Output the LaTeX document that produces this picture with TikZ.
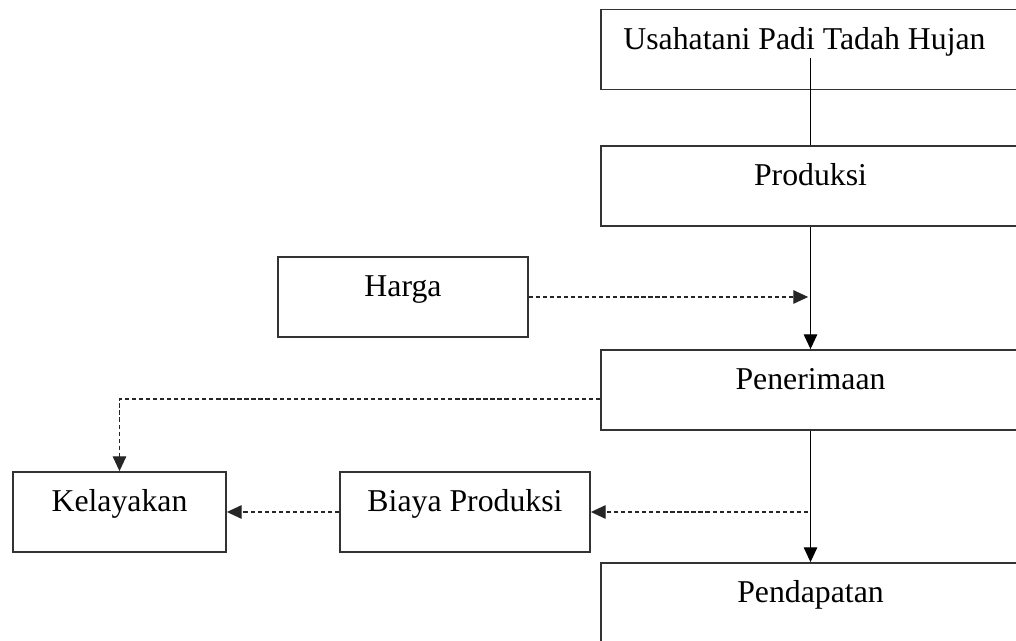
\documentclass[tikz,border=0pt]{standalone}
\usepackage{fontspec}
\setmainfont{Liberation Serif}
\usetikzlibrary{arrows.meta}

\begin{document}
\begin{tikzpicture}[>={Triangle[length=0.37cm,width=0.34cm]},
    box/.style={draw=black!80, line width=1.3pt, inner sep=0pt,
        minimum height=2cm, text height=0.5cm, text depth=0.5cm,
        font=\fontsize{22.6}{26}\selectfont},
    wide/.style={box, minimum width=10.475cm},
    dashline/.style={densely dashed, line width=0.8pt, black!85}]

% Fix the page to the size of the picture
    \useasboundingbox (0,0) rectangle (25.4,16.025);
    \clip (0,0) rectangle (25.4,16.025);

% Draw the column of boxes on the right
    \node [wide] (usaha) at (20.2625,14.7875) {Usahatani Padi Tadah Hujan\hspace*{0.3cm}};
    \node [wide] (produksi) at (20.2625,11.375) {Produksi};
    \node [wide] (penerimaan) at (20.2625,6.275) {Penerimaan};
    \node [wide] (pendapatan) at (20.2625,0.95) {Pendapatan};

% Draw the boxes on the left
    \node [box, minimum width=6.25cm] (harga) at (10.075,8.6) {Harga};
    \node [box, minimum width=6.25cm] (biaya) at (11.625,3.225) {Biaya Produksi};
    \node [box, minimum width=5.325cm] (kelayakan) at (2.9875,3.225) {Kelayakan};

% Solid connectors down the column
    \draw [line width=0.8pt] ([yshift=-0.21cm]usaha.center) -- (produksi.north);
    \draw [line width=0.8pt,->] (produksi.south) -- (penerimaan.north);
    \draw [line width=0.8pt,->] (penerimaan.south) -- (pendapatan.north);

% Dashed connectors
    \draw [dashline,->] (harga.east) -- ([xshift=-0.06cm]harga.east -| produksi.south);
    \draw [dashline,->] ([yshift=-0.225cm]penerimaan.west) -| (kelayakan.north);
    \draw [dashline,->] ([xshift=-0.06cm]biaya.east -| penerimaan.south) -- (biaya.east);
    \draw [dashline,->] (biaya.west) -- (kelayakan.east);

\end{tikzpicture}
\end{document}
